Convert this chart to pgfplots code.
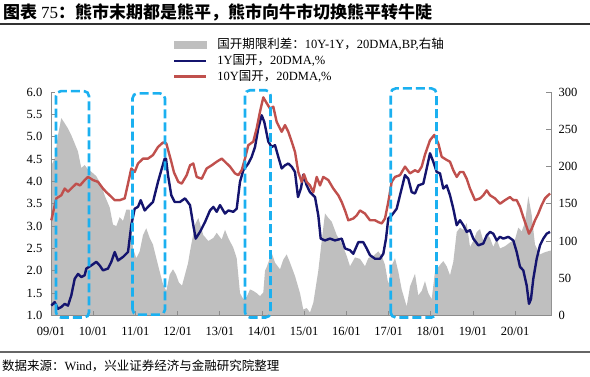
\documentclass[border=0pt]{standalone}
\usepackage{pgfplots}
\usepackage{pgfplotstable}
\pgfplotsset{compat=1.18}
\usepackage{fontspec}
\setmainfont{Liberation Serif}
\newfontfamily\cjk{Noto Sans CJK SC}
\definecolor{areagray}{HTML}{BFBFBF}
\definecolor{navy}{HTML}{14146E}
\definecolor{redl}{HTML}{C0504D}
\definecolor{boxblue}{HTML}{1BB0F0}
\definecolor{axgray}{HTML}{8C8C8C}

% x = horizontal position along the time axis (axis runs 51 .. 551)
\pgfplotstableread{
x y
51 200
54.7 211
58 242
61.3 265
64.7 258
68 251
71.3 242
74.7 231
78 220
81.3 198
84.7 202
88 196
91.3 193
96.3 187
101.3 175
105 160
109.7 145
113 122
116.3 120
119.7 132
123 127
126.3 142
129.7 142
133 90
136.3 77
139.7 86
143 108
146.3 117
149.7 104
153 95
156.3 77
159.7 59
163 42
166.3 33
169.7 55
173 62
176 55
179 44
182 40
185 55
188 70
190 86
195 122
198.3 131
203.3 108
208.3 100
213.3 104
216.7 111
221.7 102
225 115
228.3 104
233.3 91
236.7 77
240 30
243.3 22
246.7 25
250 35
253.3 33
256.7 30
260 26
263.3 31
265 60
267 66
271.7 84
275 71
280 62
283.3 75
286.7 82
290 71
295 53
300 30
303.3 8
306.7 10
310 4
313.3 17
318.3 60
321.7 100
325 137
328.3 131
331.7 126
336.7 108
341.7 97
346.7 80
350 66
355 78
360 76
365 66
368.3 77
373.3 80
378.3 86
381.7 80
385 68
388.3 42
391.7 67
395 77
398.3 59
401.7 35
406.7 12
410 39
415 56
418.3 27
421.7 33
425 46
428.3 30
431.7 22
435 59
440 68
443.3 73
446.7 66
450 54
453.3 72
456.7 112
460 118
463.3 115
466.7 124
470 92
473.3 100
476.7 112
480 116
483.3 100
486.7 110
490 104
493.3 92
496.7 103
500 90
505 93
510 98
515 102
518.3 118
521.7 113
525 125
528.3 160
531.7 135
535 95
540 82
545 85
550 87
551 87
}\spread

\pgfplotstableread{
x y
51.3 1.22
54.7 1.30
58 1.15
61.3 1.19
64.7 1.26
68 1.22
71.3 1.45
74.7 1.82
78 1.93
81.3 1.86
84.7 1.90
86.3 2.05
91.3 2.12
96.3 2.20
99.7 2.12
103 2.01
108 2.05
111.3 2.20
114.7 2.42
118 2.23
123 2.31
128 2.42
131.3 3.02
134.7 3.39
138 3.43
140.7 3.58
144.7 3.35
148 3.43
153 3.54
158 3.99
161.3 4.25
164.7 4.51
166 4.51
168 4.14
171.3 3.69
174.7 3.54
180 3.54
185 3.62
190 3.47
193.3 3.02
195.7 2.72
200 2.87
205 3.09
210 3.35
213.3 3.43
216.7 3.32
220 3.47
225 3.28
228.3 3.35
233.3 3.32
236.7 3.39
240 3.99
243.3 4.25
248.3 4.40
251.7 4.55
255 4.77
258.3 5.19
261.7 5.48
264.3 5.33
268.3 4.89
271.7 4.77
275 4.81
278.3 4.55
281.7 4.29
285 4.36
288.3 4.40
291.7 4.33
295 4.21
298 3.65
301 3.85
303.3 4.15
306.7 3.91
310 3.76
315 3.65
318.3 3.24
320.7 2.72
325 2.68
330 2.72
335 2.68
341.7 2.72
345 2.50
350 2.46
353.3 2.38
358.3 2.64
363.3 2.64
366.7 2.50
370 2.35
375 2.27
380 2.27
383.3 2.38
386 2.72
388.3 3.17
391.7 3.24
396.7 3.39
400 3.69
405 4.14
408.3 4.06
411.7 3.76
415 3.73
418.3 3.91
423.3 3.95
426.7 4.29
430 4.63
433.3 4.44
436.7 4.21
440 4.18
443.3 3.84
446.7 3.91
450 3.69
453.3 3.39
456.7 3.02
460 3.13
463.3 3.02
466.7 2.87
470 2.91
473.3 2.72
478.3 2.57
483.3 2.61
486.7 2.79
490 2.87
493.3 2.83
496.7 2.68
500 2.76
503.3 2.72
508.3 2.76
513.3 2.68
516.7 2.42
520 2.09
523.3 2.01
526.7 1.67
529 1.26
531 1.37
533.3 1.82
536.7 2.27
540 2.57
543.3 2.72
546.7 2.83
550 2.87
}\oney

\pgfplotstableread{
x y
51.3 3.13
56.3 3.62
61.3 3.69
64.7 3.84
68 3.77
73 3.88
76.3 3.95
80 3.91
84.7 4.03
88 4.10
93 4.03
98 3.99
103 3.84
106.3 3.76
109.7 3.69
114.7 3.58
119.7 3.58
124.7 3.62
128 3.95
131.3 4.29
134.7 4.21
138 4.40
143 4.51
148 4.51
153 4.59
158 4.77
163 4.87
166.3 4.85
171.3 4.44
174 4.20
178.3 3.99
181.7 3.95
186.7 4.14
190 4.36
193.3 4.40
196.7 4.10
201.7 4.06
206.7 4.29
211.7 4.36
216.7 4.44
221.7 4.51
225 4.44
230 4.33
235 4.18
238.3 4.14
241.7 4.25
245 4.51
248.3 4.81
253.3 4.89
256.7 5.19
260 5.56
263.3 5.88
266.7 5.75
270 5.63
273.3 5.67
276.7 5.33
281.7 5.11
285 5.26
288.3 5.11
291.7 4.89
295 4.66
298.3 4.21
301.7 3.99
304 4.16
306.7 3.99
310 3.91
313.3 3.76
316.7 4.10
320 3.91
323.3 4.10
328.3 4.03
333.3 3.84
338.3 3.69
341.7 3.54
345 3.35
348.3 3.13
353.3 3.17
356.7 3.24
360 3.35
365 3.28
370 3.13
375 3.13
378.3 3.09
381.7 3.06
385 3.17
388.3 3.54
391.7 3.99
395 4.10
400 4.14
405 4.33
410 4.18
415 4.25
418.3 4.21
421.7 4.33
425 4.60
430 4.92
434.3 5.04
438.3 4.85
441.7 4.55
446.7 4.48
450 4.44
453.3 4.25
456.7 4.10
460 4.21
463.3 4.21
466.7 4.06
470 3.84
475 3.58
480 3.62
483.3 3.69
486.7 3.80
490 3.69
495 3.62
500 3.50
505 3.58
510 3.65
513.3 3.58
516.7 3.58
520 3.43
523.3 3.20
526.7 2.98
529 2.83
531.7 2.94
535 3.13
538.3 3.28
541.7 3.47
545 3.62
550 3.73
}\teny

\begin{document}
\begin{tikzpicture}
\useasboundingbox (0pt,0pt) rectangle (590pt,376pt);
% title
\node[anchor=base west, inner sep=0pt] at (3pt,357pt)
  {\fontsize{17}{20}\selectfont\cjk\bfseries 图表 {\rmfamily\mdseries 75}：熊市末期都是熊平，熊市向牛市切换熊平转牛陡};
\draw[line width=2pt, black!80] (0pt,352.3pt) -- (590pt,352.3pt);
% footer
\draw[line width=2pt, black!60] (0pt,24pt) -- (590pt,24pt);
\node[anchor=base west, inner sep=0pt] at (2pt,6pt)
  {\fontsize{12.5}{14}\selectfont{\cjk 数据来源：}Wind{\cjk ，兴业证券经济与金融研究院整理}};

% right axis: spread area
\begin{axis}[
  at={(51pt,60.5pt)}, anchor=south west,
  width=500pt, height=223.5pt, scale only axis,
  xmin=51, xmax=551, ymin=0, ymax=300,
  axis y line*=right, axis x line=none,
  axis line style={draw=axgray, line width=0.8pt, -},
  tick align=inside, major tick length=5pt,
  tick style={draw=axgray, line width=0.8pt},
  ytick={0,50,100,150,200,250,300},
  /pgf/number format/assume math mode=true,
  tick label style={font=\fontsize{12.5}{14}\selectfont},
  yticklabel style={xshift=4pt},
  clip=false,
]
\addplot[fill=areagray, draw=none] table[x=x,y=y] {\spread} \closedcycle;
\end{axis}

% left axis: yields
\begin{axis}[
  at={(51pt,60.5pt)}, anchor=south west,
  width=500pt, height=223.5pt, scale only axis,
  xmin=51, xmax=551, ymin=1, ymax=6,
  axis y line*=left, axis x line*=bottom,
  axis line style={draw=axgray, line width=0.8pt, -},
  tick align=inside, major tick length=4.5pt,
  tick style={draw=axgray, line width=0.8pt},
  ytick={1,1.5,2,2.5,3,3.5,4,4.5,5,5.5,6},
  /pgf/number format/assume math mode=true,
  tick label style={font=\fontsize{12.5}{14}\selectfont},
  yticklabel style={xshift=-5.2pt, /pgf/number format/fixed, /pgf/number format/fixed zerofill, /pgf/number format/precision=1},
  xtick={51,93.2,135.4,177.6,219.8,262,304.2,346.4,388.6,430.8,473,515.2},
  xticklabels={09/01,10/01,11/01,12/01,13/01,14/01,15/01,16/01,17/01,18/01,19/01,20/01},
  xticklabel style={yshift=-8.5pt},
  clip=false,
  legend style={at={(axis description cs:0.244,1.2394)}, anchor=north west,
    draw=none, fill=none, inner sep=0pt, outer sep=0pt,
    font=\fontsize{12.5}{14}\selectfont,
    row sep=2.75pt,
    nodes={inner sep=0pt, text height=10pt, text depth=3pt, anchor=west},
    /tikz/every odd column/.append style={column sep=10pt}},
  legend cell align=left,
  legend image code/.code={\draw[#1] (0pt,0pt) -- (32pt,0pt);},
]
\addlegendimage{legend image code/.code={\fill[areagray] (0pt,-3.5pt) rectangle (32pt,3.5pt);}}
\addlegendentry{{\cjk 国开期限利差：}10Y-1Y{\cjk ，}20DMA,BP,{\cjk 右轴}}
\addplot[navy, line width=2.4pt, line join=round] table[x=x,y=y] {\oney};
\addlegendentry{1Y{\cjk 国开，}20DMA,\%}
\addplot[redl, line width=2.4pt, line join=round] table[x=x,y=y] {\teny};
\addlegendentry{10Y{\cjk 国开，}20DMA,\%}

\draw[boxblue, line width=2.6pt, dash pattern=on 9pt off 4pt, rounded corners=5pt]
  (axis cs:56,0.955) rectangle (axis cs:89,6.02);
\draw[boxblue, line width=2.6pt, dash pattern=on 9pt off 4pt, rounded corners=5pt]
  (axis cs:132.5,1.02) rectangle (axis cs:165,5.97);
\draw[boxblue, line width=2.6pt, dash pattern=on 9pt off 4pt, rounded corners=5pt]
  (axis cs:245,0.955) rectangle (axis cs:270.5,6.04);
\draw[boxblue, line width=2.6pt, dash pattern=on 9pt off 4pt, rounded corners=5pt]
  (axis cs:390.7,0.955) rectangle (axis cs:436.5,6.08);
\end{axis}
\end{tikzpicture}
\end{document}
